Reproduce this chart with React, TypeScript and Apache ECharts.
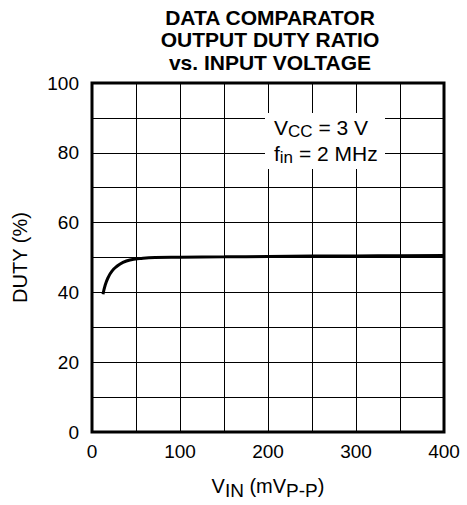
import React, { useEffect, useRef } from "react";
import * as echarts from "echarts";

const titleLines = ["DATA COMPARATOR", "OUTPUT DUTY RATIO", "vs. INPUT VOLTAGE"];
const vinMv = [12.5, 14.8, 18.2, 22.7, 28.4, 35.2, 43.2, 54.5, 71.6, 100, 150, 200, 250, 300, 350, 400];
const dutyPct = [39.5, 41.9, 44.2, 46.1, 47.5, 48.6, 49.3, 49.7, 50.0, 50.1, 50.2, 50.3, 50.4, 50.45, 50.5, 50.6];
const xTickLabels = [0, 100, 200, 300, 400];
const yTickLabels = [0, 20, 40, 60, 80, 100];

const FONT = "'Liberation Sans', Arial, Helvetica, sans-serif";

export default function App() {
  const ref = useRef<HTMLDivElement>(null);
  useEffect(() => {
    if (!ref.current) return;
    const chart = echarts.init(ref.current, null, { renderer: "svg" });
    const data = vinMv.map((v, i) => [v, dutyPct[i]]);
    chart.setOption({
      animation: false,
      backgroundColor: "#fff",
      textStyle: { fontFamily: FONT, color: "#000" },
      grid: {
        left: 92,
        top: 83,
        width: 352,
        height: 351,
        show: true,
        borderColor: "#000",
        borderWidth: 3,
        backgroundColor: "transparent",
      },
      xAxis: {
        type: "value",
        min: 0,
        max: 400,
        interval: 50,
        axisLine: { show: false },
        axisTick: { show: false },
        splitLine: { show: true, lineStyle: { color: "#000", width: 1 } },
        axisLabel: {
          margin: 10,
          fontSize: 19,
          color: "#000",
          fontFamily: FONT,
          formatter: (v: number) => (xTickLabels.includes(v) ? String(v) : ""),
        },
        name: "{m|V}{s|IN}{m| (mV}{s|P-P}{m|)}",
        nameLocation: "middle",
        nameGap: 40,
        nameTextStyle: {
          fontFamily: FONT,
          color: "#000",
          fontSize: 20,
          lineHeight: 28,
          rich: {
            m: { fontSize: 20, lineHeight: 28, fontFamily: FONT, color: "#000" },
            s: { fontSize: 19, lineHeight: 14, verticalAlign: "bottom", fontFamily: FONT, color: "#000" },
          },
        },
      },
      yAxis: {
        type: "value",
        min: 0,
        max: 100,
        interval: 10,
        axisLine: { show: false },
        axisTick: { show: false },
        splitLine: { show: true, lineStyle: { color: "#000", width: 1 } },
        axisLabel: {
          margin: 13,
          fontSize: 19,
          color: "#000",
          fontFamily: FONT,
          formatter: (v: number) => (yTickLabels.includes(v) ? String(v) : ""),
        },
        name: "DUTY (%)",
        nameLocation: "middle",
        nameRotate: 90,
        nameGap: 62,
        nameTextStyle: { fontFamily: FONT, color: "#000", fontSize: 20 },
      },
      series: [
        {
          type: "line",
          data,
          smooth: 0.5,
          showSymbol: false,
          lineStyle: { color: "#000", width: 3 },
          z: 5,
        },
      ],
      graphic: [
        {
          type: "text",
          x: 270,
          y: 6,
          z: 100,
          style: {
            text: titleLines.join("\n"),
            fontFamily: FONT,
            fontSize: 21,
            fontWeight: "bold",
            lineHeight: 22.5,
            fill: "#000",
            align: "center",
            verticalAlign: "top",
          },
        },
        {
          type: "rect",
          z: 100,
          shape: { x: 265, y: 113, width: 120, height: 56 },
          style: { fill: "#fff" },
        },
        {
          type: "text",
          x: 274,
          y: 115,
          z: 101,
          style: {
            text: "{m|V}{s|CC}{m| = 3 V}",
            fill: "#000",
            rich: {
              m: { fontSize: 21, lineHeight: 25, fontFamily: FONT, fill: "#000" },
              s: { fontSize: 17, lineHeight: 15, verticalAlign: "bottom", fontFamily: FONT, fill: "#000" },
            },
          },
        },
        {
          type: "text",
          x: 274,
          y: 141,
          z: 101,
          style: {
            text: "{m|f}{s|in}{m| = 2 MHz}",
            fill: "#000",
            rich: {
              m: { fontSize: 21, lineHeight: 25, fontFamily: FONT, fill: "#000" },
              s: { fontSize: 17, lineHeight: 15, verticalAlign: "bottom", fontFamily: FONT, fill: "#000" },
            },
          },
        },
      ],
    });
    return () => chart.dispose();
  }, []);
  return (
    <div
      ref={ref}
      style={{ position: "fixed", left: 0, top: 0, width: 467, height: 505 }}
    />
  );
}
